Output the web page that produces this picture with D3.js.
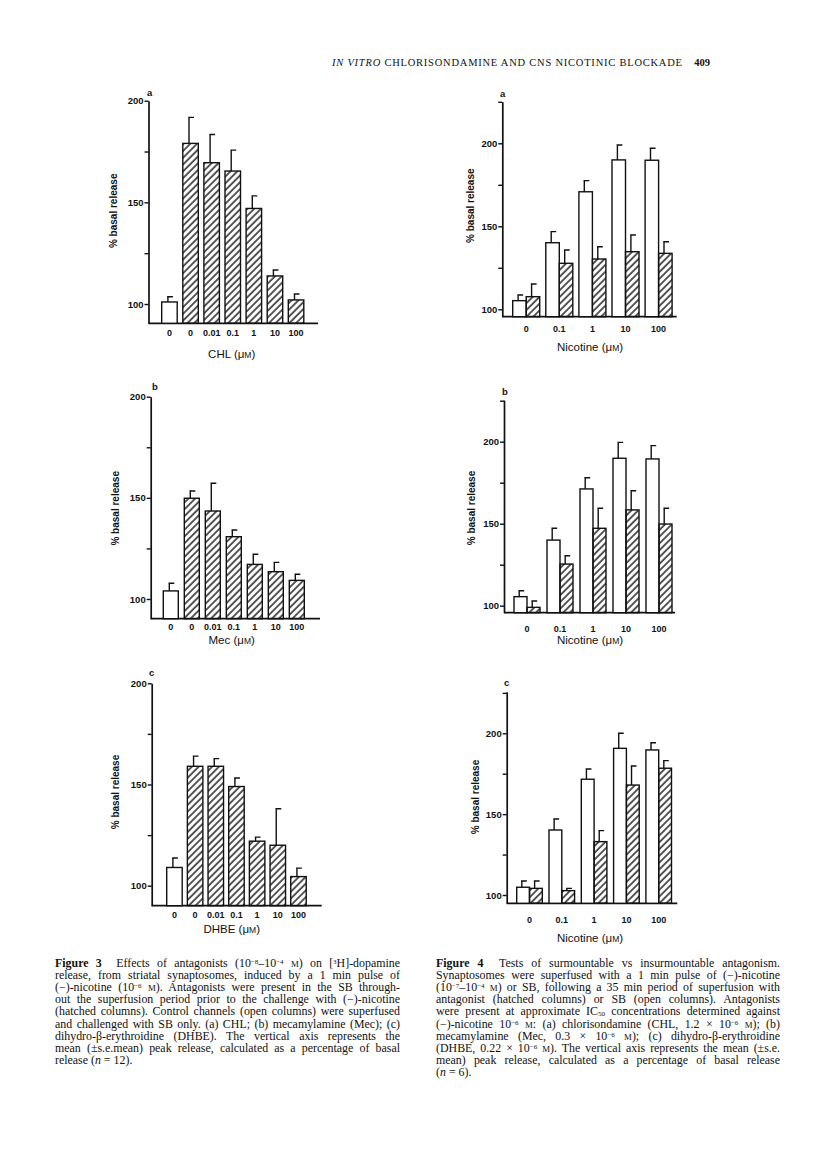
<!DOCTYPE html>
<html>
<head>
<meta charset="utf-8">
<script src="https://cdn.jsdelivr.net/npm/d3@7"></script>
<style>
  body { margin: 0; background: #fff; }
  svg { display: block; }
  .sans { font-family: "Liberation Sans", Arial, sans-serif; fill: #111; }
  .serif { font-family: "Liberation Serif", "Times New Roman", serif; fill: #111; }
</style>
</head>
<body>
<svg id="page" width="816" height="1162"></svg>
<script>
// ---- Figure 3: antagonist dose (uM), first column is the control ----
const antagonistDoses = ["0", "0", "0.01", "0.1", "1", "10", "100"];
const antagonistHatched = [false, true, true, true, true, true, true];
const chlMean = [101, 179, 169.5, 165.4, 147, 113.8, 102];
const chlErr = [2.6, 12.8, 13.9, 10.3, 6.2, 2.9, 2.9];
const mecMean = [104, 149.8, 143.5, 130.8, 117.1, 113.5, 109.2];
const mecErr = [3.8, 3.6, 13.7, 3.3, 5, 4.6, 3];
const dhbeMean = [109, 159, 159, 149, 122, 120, 104.5];
const dhbeErr = [4.7, 5, 3.8, 4.2, 2, 18, 4.2];

// ---- Figure 4: nicotine dose (uM), SB (open) vs antagonist (hatched) ----
const nicotineDoses = ["0", "0.1", "1", "10", "100"];
const columnKinds = ["SB", "antagonist"];
const sbMeanA = [105.2, 140.1, 170.8, 190, 189.8];
const sbErrA = [3.4, 6.7, 6.7, 9, 7.2];
const chlMeanA = [107.6, 127.7, 130.3, 134.7, 133.7];
const chlErrA = [7.6, 8, 7.4, 10.1, 7];
const sbMeanB = [105.5, 140, 171.2, 189.9, 189.5];
const sbErrB = [3.6, 7.2, 6.8, 9.7, 8.1];
const mecMeanB = [99, 125.4, 147.2, 158.4, 149.8];
const mecErrB = [3.9, 5.1, 12.2, 11.7, 9.6];
const sbMeanC = [104.8, 140.2, 171.6, 190.7, 189.7];
const sbErrC = [3.9, 6.8, 6.3, 9.3, 4.5];
const dhbeMeanC = [104.1, 102.7, 133, 168, 178.4];
const dhbeErrC = [4.6, 1.4, 6.8, 11.8, 4.7];

const fig3TickValues = [100, 125, 150, 175, 200];
const fig4TickValues = [100, 125, 150, 175, 200, 225];
const labelledTicks = [100, 150, 200];

const headerText = ["IN VITRO", " CHLORISONDAMINE AND CNS NICOTINIC BLOCKADE"];
const pageNumber = "409";

const caption3 = [
  "**Figure 3**  Effects of antagonists (10^−8^–10^−4^ ~M~) on [^3^H]-dopamine",
  "release, from striatal synaptosomes, induced by a 1 min pulse of",
  "(−)-nicotine (10^−6^ ~M~). Antagonists were present in the SB through-",
  "out the superfusion period prior to the challenge with (−)-nicotine",
  "(hatched columns). Control channels (open columns) were superfused",
  "and challenged with SB only. (a) CHL; (b) mecamylamine (Mec); (c)",
  "dihydro-β-erythroidine (DHBE). The vertical axis represents the",
  "mean (±s.e.mean) peak release, calculated as a percentage of basal",
  "release (*n* = 12)."
];
const caption4 = [
  "**Figure 4**  Tests of surmountable vs insurmountable antagonism.",
  "Synaptosomes were superfused with a 1 min pulse of (−)-nicotine",
  "(10^−7^–10^−4^ ~M~) or SB, following a 35 min period of superfusion with",
  "antagonist (hatched columns) or SB (open columns). Antagonists",
  "were present at approximate IC_50_ concentrations determined against",
  "(−)-nicotine 10^−6^ ~M~: (a) chlorisondamine (CHL, 1.2 × 10^−6^ ~M~); (b)",
  "mecamylamine (Mec, 0.3 × 10^−6^ ~M~); (c) dihydro-β-erythroidine",
  "(DHBE, 0.22 × 10^−6^ ~M~). The vertical axis represents the mean (±s.e.",
  "mean) peak release, calculated as a percentage of basal release",
  "(*n* = 6)."
];

const svg = d3.select("#page");

// diagonal hatching used for antagonist columns
svg.append("defs").append("pattern")
  .attr("id", "hatch")
  .attr("patternUnits", "userSpaceOnUse")
  .attr("width", 4.8).attr("height", 4.8)
  .attr("patternTransform", "rotate(45)")
  .append("line")
  .attr("x1", 1).attr("y1", 0).attr("x2", 1).attr("y2", 4.8)
  .attr("stroke", "#111").attr("stroke-width", 1.4);

function makeY(p, top) {
  const k = (p.y100 - p.y200) / 100;
  const lo = 100 - (p.bottom - p.y100) / k;
  const hi = 200 + (p.y200 - top) / k;
  return d3.scaleLinear().domain([lo, hi]).range([p.bottom, top]);
}

function drawFrame(g, p, y, ticks) {
  const axis = d3.axisLeft(y)
    .tickValues(ticks)
    .tickSize(4)
    .tickSizeOuter(0)
    .tickPadding(1)
    .tickFormat(d => labelledTicks.includes(d) ? d : "");
  const ax = g.append("g").attr("transform", `translate(${p.ax},0)`).call(axis);
  ax.select(".domain").attr("stroke", "#111").attr("stroke-width", 1.7);
  ax.selectAll(".tick line").attr("stroke", "#111").attr("stroke-width", 1.4);
  ax.selectAll(".tick text")
    .attr("class", "sans").attr("font-size", 9.5).attr("font-weight", "bold").attr("fill", "#111");

  g.append("line")
    .attr("x1", p.ax).attr("x2", p.xEnd)
    .attr("y1", p.bottom).attr("y2", p.bottom)
    .attr("stroke", "#111").attr("stroke-width", 1.7);

  g.append("text").attr("class", "sans")
    .attr("transform", `translate(${p.yTitleX},${p.yTitleY}) rotate(-90)`)
    .attr("text-anchor", "middle").attr("dominant-baseline", "central")
    .attr("font-size", 10).attr("font-weight", "bold")
    .text("% basal release");

  const xt = g.append("text").attr("class", "sans")
    .attr("x", p.titleX).attr("y", p.titleY)
    .attr("text-anchor", "middle").attr("font-size", 11.5);
  xt.append("tspan").text(p.drug + " (μ");
  xt.append("tspan").attr("font-size", 8.5).text("M");
  xt.append("tspan").text(")");

  g.append("text").attr("class", "sans")
    .attr("x", p.letterX).attr("y", p.letterY)
    .attr("font-size", 9.5).attr("font-weight", "bold")
    .text(p.letter);
}

function errorBar(g, x, yTop, yErr) {
  g.append("path")
    .attr("d", `M${x},${yTop}V${yErr}M${x - 0.8},${yErr}H${x + 5}`)
    .attr("fill", "none").attr("stroke", "#111").attr("stroke-width", 1.4);
}

function drawFig3(p, mean, err) {
  const g = svg.append("g");
  const y = makeY(p, p.y200);
  const n = antagonistDoses.length;
  const pi = 1 - p.bw / p.step;
  const x = d3.scaleBand()
    .domain(d3.range(n))
    .range([p.bandStart, p.bandStart + p.step * (n - pi)])
    .paddingInner(pi).paddingOuter(0);

  drawFrame(g, p, y, fig3TickValues);

  d3.range(n).forEach(i => {
    errorBar(g, x(i) + x.bandwidth() * 0.4, y(mean[i]), y(mean[i] + err[i]));
  });
  g.selectAll("rect.bar").data(d3.range(n)).join("rect")
    .attr("class", "bar")
    .attr("x", i => x(i)).attr("width", x.bandwidth())
    .attr("y", i => y(mean[i])).attr("height", i => p.bottom - y(mean[i]))
    .attr("fill", i => antagonistHatched[i] ? "url(#hatch)" : "#fff")
    .attr("stroke", "#111").attr("stroke-width", 1.4);

  g.selectAll("text.xl").data(d3.range(n)).join("text")
    .attr("class", "xl sans")
    .attr("x", i => x(i) + x.bandwidth() / 2).attr("y", p.tickY)
    .attr("text-anchor", "middle").attr("font-size", 9).attr("font-weight", "bold")
    .text(i => antagonistDoses[i]);
}

function drawFig4(p, sbMean, sbErr, antMean, antErr) {
  const g = svg.append("g");
  const y = makeY(p, p.top);
  const n = nicotineDoses.length;
  const pi = 1 - (2 * p.bw) / p.step;
  const x0 = d3.scaleBand()
    .domain(nicotineDoses)
    .range([p.bandStart, p.bandStart + p.step * (n - pi)])
    .paddingInner(pi).paddingOuter(0);
  const x1 = d3.scaleBand().domain(columnKinds).range([0, x0.bandwidth()]);

  drawFrame(g, p, y, fig4TickValues);

  const rows = [];
  nicotineDoses.forEach((d, i) => {
    rows.push({ dose: d, kind: "SB", m: sbMean[i], e: sbErr[i] });
    rows.push({ dose: d, kind: "antagonist", m: antMean[i], e: antErr[i] });
  });
  rows.forEach(r => {
    errorBar(g, x0(r.dose) + x1(r.kind) + x1.bandwidth() * 0.4, y(r.m), y(r.m + r.e));
  });
  g.selectAll("rect.bar").data(rows).join("rect")
    .attr("class", "bar")
    .attr("x", r => x0(r.dose) + x1(r.kind)).attr("width", x1.bandwidth())
    .attr("y", r => y(r.m)).attr("height", r => p.bottom - y(r.m))
    .attr("fill", r => r.kind === "SB" ? "#fff" : "url(#hatch)")
    .attr("stroke", "#111").attr("stroke-width", 1.4);

  g.selectAll("text.xl").data(nicotineDoses).join("text")
    .attr("class", "xl sans")
    .attr("x", d => x0(d) + x0.bandwidth() / 2).attr("y", p.tickY)
    .attr("text-anchor", "middle").attr("font-size", 9).attr("font-weight", "bold")
    .text(d => d);
}

// panel placement on the page
drawFig3({ drug: "CHL", letter: "a", ax: 148.5, y100: 304, y200: 100.7, bottom: 323.3, xEnd: 318,
  bandStart: 161.7, step: 21.1, bw: 15.5, tickY: 335.5, titleX: 231.7, titleY: 358,
  yTitleX: 113.3, yTitleY: 210.8, letterX: 147, letterY: 96 }, chlMean, chlErr);
drawFig3({ drug: "Mec", letter: "b", ax: 150.7, y100: 599, y200: 396.7, bottom: 618.7, xEnd: 320,
  bandStart: 163.3, step: 21, bw: 15, tickY: 630, titleX: 231.7, titleY: 644,
  yTitleX: 115, yTitleY: 508.3, letterX: 152, letterY: 390 }, mecMean, mecErr);
drawFig3({ drug: "DHBE", letter: "c", ax: 151.7, y100: 885.7, y200: 683.3, bottom: 905.7, xEnd: 321.7,
  bandStart: 166.7, step: 20.67, bw: 15.5, tickY: 918.3, titleX: 231.7, titleY: 933,
  yTitleX: 115, yTitleY: 792, letterX: 149, letterY: 676 }, dhbeMean, dhbeErr);

drawFig4({ drug: "Nicotine", letter: "a", ax: 502.3, y100: 309.3, y200: 143.3, bottom: 316.7, top: 101.7,
  xEnd: 676.7, bandStart: 512.7, step: 33.1, bw: 13.5, tickY: 331.5, titleX: 590, titleY: 351,
  yTitleX: 470, yTitleY: 205.7, letterX: 500, letterY: 97 }, sbMeanA, sbErrA, chlMeanA, chlErrA);
drawFig4({ drug: "Nicotine", letter: "b", ax: 504, y100: 605.7, y200: 441.7, bottom: 612.7, top: 400,
  xEnd: 675, bandStart: 514, step: 33, bw: 13, tickY: 631.5, titleX: 590, titleY: 644,
  yTitleX: 471.7, yTitleY: 508, letterX: 502, letterY: 395 }, sbMeanB, sbErrB, mecMeanB, mecErrB);
drawFig4({ drug: "Nicotine", letter: "c", ax: 506.7, y100: 895, y200: 733.3, bottom: 903.3, top: 691.7,
  xEnd: 677.3, bandStart: 516.7, step: 32.3, bw: 12.8, tickY: 923.3, titleX: 590, titleY: 942,
  yTitleX: 475.7, yTitleY: 797, letterX: 504, letterY: 686 }, sbMeanC, sbErrC, dhbeMeanC, dhbeErrC);

// running header
const hd = svg.append("text").attr("class", "serif")
  .attr("x", 332).attr("y", 66).attr("font-size", 10.5)
  .attr("textLength", 350).attr("lengthAdjust", "spacing");
hd.append("tspan").attr("font-style", "italic").text(headerText[0]);
hd.append("tspan").text(headerText[1]);
svg.append("text").attr("class", "serif")
  .attr("x", 710).attr("y", 66).attr("text-anchor", "end")
  .attr("font-size", 10.5).attr("font-weight", "bold").text(pageNumber);

// captions: small markup -> tspans, justified by widening word gaps
function writeLine(x, yPos, width, str, justify) {
  const t = svg.append("text").attr("class", "serif")
    .attr("x", x).attr("y", yPos).attr("font-size", 11.9)
    .attr("xml:space", "preserve");
  let plain = "";
  str.split(/(\*\*[^*]+\*\*|\^[^^]+\^|_[^_]+_|~[^~]+~|\*[^*]+\*)/).filter(s => s).forEach(s => {
    let ts;
    if (s.startsWith("**")) ts = t.append("tspan").attr("font-weight", "bold").text(s.slice(2, -2));
    else if (s.startsWith("^")) ts = t.append("tspan").attr("font-size", 7).attr("baseline-shift", 3.5).text(s.slice(1, -1));
    else if (s.startsWith("_")) ts = t.append("tspan").attr("font-size", 7).attr("baseline-shift", -1).text(s.slice(1, -1));
    else if (s.startsWith("~")) ts = t.append("tspan").attr("font-size", 8.8).text(s.slice(1, -1));
    else if (s.startsWith("*")) ts = t.append("tspan").attr("font-style", "italic").text(s.slice(1, -1));
    else ts = t.append("tspan").text(s);
    plain += ts.text();
  });
  if (justify) {
    const natural = t.node().getComputedTextLength();
    const gaps = (plain.match(/ /g) || []).length;
    if (gaps) t.attr("word-spacing", (width - natural) / gaps);
  }
}
caption3.forEach((s, i) => writeLine(55, 967 + i * 12.1, 345, s, i < caption3.length - 1));
caption4.forEach((s, i) => writeLine(436, 967 + i * 12.1, 344, s, i < caption4.length - 1));
</script>
</body>
</html>
